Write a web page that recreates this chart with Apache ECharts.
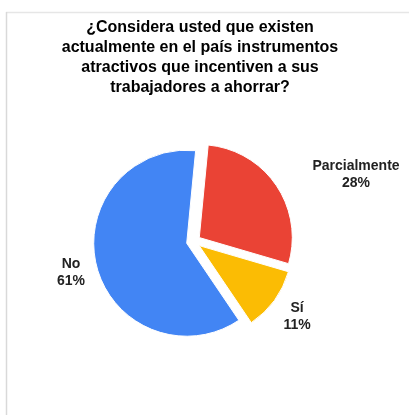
<!DOCTYPE html>
<html>
<head>
<meta charset="utf-8">
<script src="https://cdn.jsdelivr.net/npm/echarts@6/dist/echarts.min.js"></script>
<style>
html,body{margin:0;padding:0;background:#fff;}
#chart{width:409px;height:415px;}
</style>
</head>
<body>
<div id="chart"></div>
<script>
// Data
var categories = ['Parcialmente', 'Sí', 'No'];
var values = [28, 11, 61];
var titleLines = ['¿Considera usted que existen', 'actualmente en el país instrumentos', 'atractivos que incentiven a sus', 'trabajadores a ahorrar?'];

// Styles
var colors = ['#ea4335', '#fbbc04', '#4285f4'];
var labelPos = [[356, 174.5], [297, 317], [71, 272.5]];

var chart = echarts.init(document.getElementById('chart'), null, {renderer: 'canvas'});
var font = '"Liberation Sans", Arial, sans-serif';

var total = values.reduce(function (a, b) { return a + b; }, 0);
var graphics = [
  {type: 'line', shape: {x1: 6, y1: 12.5, x2: 409, y2: 12.5}, style: {stroke: '#e6e6e6', lineWidth: 1.5}, silent: true},
  {type: 'line', shape: {x1: 6.5, y1: 12, x2: 6.5, y2: 415}, style: {stroke: '#d9d9d9', lineWidth: 1.5}, silent: true},
  {
    type: 'text', x: 200, y: 18, silent: true,
    style: {
      text: titleLines.join('\n'),
      fill: '#000',
      font: 'bold 16px ' + font,
      lineHeight: 19.8,
      align: 'center',
      verticalAlign: 'top'
    }
  }
];
categories.forEach(function (c, i) {
  graphics.push({
    type: 'text', x: labelPos[i][0], y: labelPos[i][1], silent: true,
    style: {
      text: c + '\n' + Math.round(values[i] / total * 100) + '%',
      fill: '#222',
      font: 'bold 14px ' + font,
      lineHeight: 17,
      align: 'center',
      verticalAlign: 'middle'
    }
  });
});

chart.setOption({
  animation: false,
  backgroundColor: '#ffffff',
  graphic: graphics,
  series: [{
    type: 'pie',
    center: [193.5, 241.5],
    radius: [0, 93],
    startAngle: 84.5,
    clockwise: true,
    selectedMode: 'multiple',
    selectedOffset: 7,
    emphasis: {disabled: true},
    itemStyle: {borderColor: '#fff', borderWidth: 1},
    label: {show: false},
    labelLine: {show: false},
    data: categories.map(function (c, i) {
      return {name: c, value: values[i], selected: true, itemStyle: {color: colors[i]}};
    })
  }]
});
</script>
</body>
</html>
